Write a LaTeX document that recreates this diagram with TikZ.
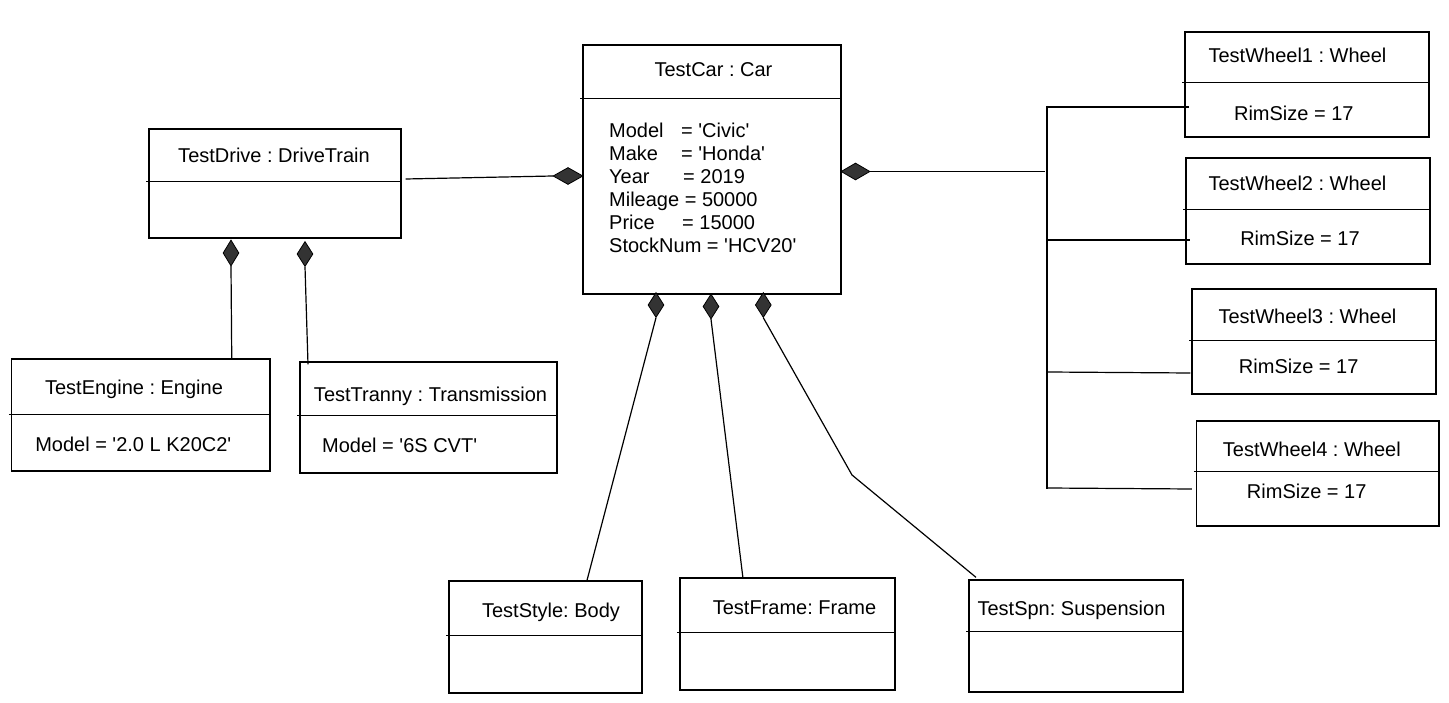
\documentclass[tikz,border=0pt]{standalone}
\usepackage{fontspec}
\setmainfont{Liberation Sans}
\usetikzlibrary{shapes.geometric}
\definecolor{dgray}{HTML}{333333}
\newcommand{\qs}{\textquotesingle}
\frenchspacing
\begin{document}
\begin{tikzpicture}[x=1pt,y=-1pt,
  box/.style={draw=black, line width=1.3pt, rectangle, inner sep=0pt, fill=white},
  lbl/.style={inner sep=0pt, text height=14.3pt, text depth=0pt, font=\fontsize{20}{23}\selectfont\frenchspacing},
  conn/.style={line width=1.2pt, draw=black},
  dmd/.style={diamond, draw=black, fill=dgray, line width=0.8pt, inner sep=0pt, aspect=1},
  divline/.style={line width=1.3pt}
]
\useasboundingbox (0,0) rectangle (1449,703);
\fill[white] (0,0) rectangle (1449,703);

% boxes
\node[box, minimum width=252pt, minimum height=109pt] (drive) at (275,183.5) {};
\node[box, minimum width=258pt, minimum height=249pt] (car) at (712,169.5) {};
\node[box, minimum width=244pt, minimum height=105pt] (w1) at (1307,84.5) {};
\node[box, minimum width=244pt, minimum height=106pt] (w2) at (1308,211) {};
\node[box, minimum width=244pt, minimum height=105pt] (w3) at (1314,341.5) {};
\node[box, minimum width=242.5pt, minimum height=105pt] (w4) at (1317.75,473.5) {};
\node[box, minimum width=258.5pt, minimum height=112pt] (engine) at (140.75,415) {};
\node[box, minimum width=257pt, minimum height=111pt] (tranny) at (428.5,417.5) {};
\node[box, minimum width=193pt, minimum height=112pt] (body) at (545.5,637) {};
\node[box, minimum width=215pt, minimum height=112pt] (frame) at (787.5,634) {};
\node[box, minimum width=214pt, minimum height=112pt] (spn) at (1076,636) {};

% dividers
\draw[divline] ([xshift=-2pt,yshift=-53pt]drive.north west) -- ([yshift=-53pt]drive.north east);
\draw[divline] ([xshift=-2pt,yshift=-54pt]car.north west) -- ([yshift=-54pt]car.north east);
\draw[divline] ([xshift=-2pt,yshift=-51pt]w1.north west) -- ([yshift=-51pt]w1.north east);
\draw[divline] ([xshift=-2pt,yshift=-52pt]w2.north west) -- ([yshift=-52pt]w2.north east);
\draw[divline] ([xshift=-2pt,yshift=-52pt]w3.north west) -- ([yshift=-52pt]w3.north east);
\draw[divline] ([xshift=-2pt,yshift=-51pt]w4.north west) -- ([yshift=-51pt]w4.north east);
\draw[divline] ([xshift=-2pt,yshift=-56pt]engine.north west) -- ([yshift=-56pt]engine.north east);
\draw[divline] ([xshift=-2pt,yshift=-54pt]tranny.north west) -- ([yshift=-54pt]tranny.north east);
\draw[divline] ([xshift=-2pt,yshift=-55pt]body.north west) -- ([yshift=-55pt]body.north east);
\draw[divline] ([xshift=-2pt,yshift=-55pt]frame.north west) -- ([yshift=-55pt]frame.north east);
\draw[divline] ([xshift=-2pt,yshift=-52pt]spn.north west) -- ([yshift=-52pt]spn.north east);

% labels
\node[lbl] (tdrive) at (274,155.5) {TestDrive : DriveTrain};
\node[lbl] (tcar) at (713.5,69) {TestCar : Car};
\node[lbl, anchor=north west, text height=, text depth=, align=left] (acar) at (609,122.4)
  {\makebox[72pt][l]{Model}= \qs Civic\qs\\
   \makebox[72pt][l]{Make}= \qs Honda\qs\\
   \makebox[74pt][l]{Year}= 2019\\
   Mileage = 50000\\
   \makebox[73pt][l]{Price}= 15000\\
   StockNum = \qs HCV20\qs};
\node[lbl] (tw1) at (1297.5,55) {TestWheel1 : Wheel};
\node[lbl] (rw1) at (1293.8,113.5) {RimSize = 17};
\node[lbl] (tw2) at (1297.5,183) {TestWheel2 : Wheel};
\node[lbl] (rw2) at (1300,238.5) {RimSize = 17};
\node[lbl] (tw3) at (1307.5,316) {TestWheel3 : Wheel};
\node[lbl] (rw3) at (1298.7,366) {RimSize = 17};
\node[lbl] (tw4) at (1311.8,449) {TestWheel4 : Wheel};
\node[lbl] (rw4) at (1306.7,491.5) {RimSize = 17};
\node[lbl] (teng) at (134,387) {TestEngine : Engine};
\node[lbl] (meng) at (133.3,444) {Model = \qs 2.0 L K20C2\qs};
\node[lbl] (ttra) at (430.5,394) {TestTranny : Transmission};
\node[lbl, anchor=west] (mtra) at (322,445) {Model = \qs 6S CVT\qs};
\node[lbl] (tbody) at (551,610) {TestStyle: Body};
\node[lbl] (tframe) at (794.5,607) {TestFrame: Frame};
\node[lbl] (tspn) at (1071.5,608) {TestSpn: Suspension};

% coordinates
\coordinate (bm) at (1045,171.5);
\coordinate (bt) at (1047,106);
\coordinate (bb) at (1047,489);
\coordinate (b1) at (1047,107);
\coordinate (b2) at (1048,240);
\coordinate (b3) at (1048,372);
\coordinate (b4) at (1048,488);
\coordinate (kink) at (852,475);

% diamond positions (drawn later on top)
\path node[minimum width=30pt, minimum height=17pt, diamond, inner sep=0pt] (dl) at (568,176) {}
      node[minimum width=29pt, minimum height=17pt, diamond, inner sep=0pt] (dr) at (855.5,171.5) {}
      node[minimum width=16pt, minimum height=26pt, diamond, inner sep=0pt] (dd1) at (231,253) {}
      node[minimum width=16pt, minimum height=25pt, diamond, inner sep=0pt] (dd2) at (305,254) {}
      node[minimum width=16pt, minimum height=25pt, diamond, inner sep=0pt] (dc1) at (656,305) {}
      node[minimum width=16pt, minimum height=25pt, diamond, inner sep=0pt] (dc2) at (711,306.5) {}
      node[minimum width=16pt, minimum height=25pt, diamond, inner sep=0pt] (dc3) at (763.3,305) {};

% connectors
\draw[conn] ([xshift=4pt,yshift=4.5pt]drive.east) -- (dl.west);
\draw[conn] (dr.east) -- (bm);
\draw[conn] (bt) -- (bb);
\draw[conn] (b1) -- ([xshift=5pt,yshift=-22.5pt]w1.west);
\draw[conn] (b2) -- ([xshift=5pt,yshift=-29pt]w2.west);
\draw[conn] (b3) -- ([xshift=-1pt,yshift=-31.5pt]w3.west);
\draw[conn] (b4) -- ([xshift=-4pt,yshift=-15.5pt]w4.west);
\draw[conn] (dd1.south) -- ([xshift=91pt]engine.north);
\draw[conn] (dd2.south) -- ([xshift=-120.5pt,yshift=-3pt]tranny.north);
\draw[conn] (dc1.south) -- ([xshift=41.5pt]body.north);
\draw[conn] (dc2.south) -- ([xshift=-44.5pt,yshift=-1pt]frame.north);
\draw[conn] (dc3.south) -- (kink) -- ([xshift=-100pt,yshift=2pt]spn.north);

% composition diamonds
\node[dmd, minimum width=30pt, minimum height=17pt] (dlv) at (dl) {};
\node[dmd, minimum width=29pt, minimum height=17pt] (drv) at (dr) {};
\node[dmd, minimum width=16pt, minimum height=26pt] (dd1v) at (dd1) {};
\node[dmd, minimum width=16pt, minimum height=25pt] (dd2v) at (dd2) {};
\node[dmd, minimum width=16pt, minimum height=25pt] (dc1v) at (dc1) {};
\node[dmd, minimum width=16pt, minimum height=25pt] (dc2v) at (dc2) {};
\node[dmd, minimum width=16pt, minimum height=25pt] (dc3v) at (dc3) {};
\end{tikzpicture}
\end{document}
